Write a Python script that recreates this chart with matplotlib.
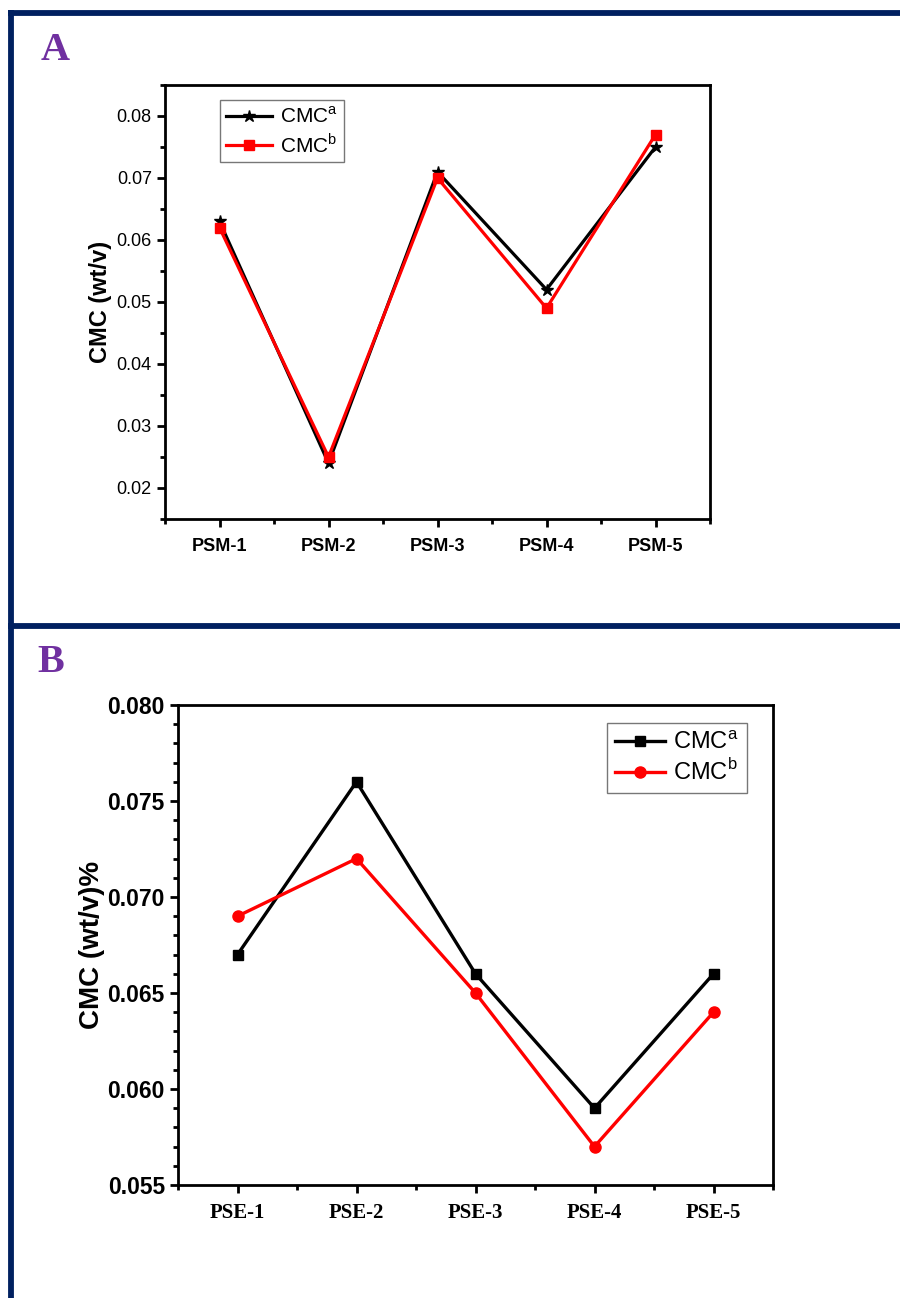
import matplotlib
matplotlib.use("Agg")
import matplotlib.pyplot as plt
from matplotlib.lines import Line2D
from matplotlib.ticker import MultipleLocator, FixedLocator

# ---------------- data ----------------
cats_a = ["PSM-1", "PSM-2", "PSM-3", "PSM-4", "PSM-5"]
cmc_a_a = [0.063, 0.024, 0.071, 0.052, 0.075]
cmc_b_a = [0.062, 0.025, 0.070, 0.049, 0.077]

cats_b = ["PSE-1", "PSE-2", "PSE-3", "PSE-4", "PSE-5"]
cmc_a_b = [0.067, 0.076, 0.066, 0.059, 0.066]
cmc_b_b = [0.069, 0.072, 0.065, 0.057, 0.064]

W, H = 900, 1298
fig = plt.figure(figsize=(W / 100, H / 100), dpi=100)

def fx(px):
    return px / W

def fy(py):
    return 1 - py / H

navy = "#002060"
purple = "#7030A0"

# border lines
for (x0, y0, x1, y1) in [(8, 12.5, 900, 12.5), (11, 10, 11, 1298), (8, 625.5, 900, 625.5)]:
    fig.add_artist(Line2D([fx(x0), fx(x1)], [fy(y0), fy(y1)], color=navy, lw=4.2,
                          transform=fig.transFigure, solid_capstyle="butt"))

fig.text(fx(55), fy(51), "A", color=purple, fontsize=29, fontweight="bold",
         family="Liberation Serif", ha="center", va="center")
fig.text(fx(51), fy(663), "B", color=purple, fontsize=29, fontweight="bold",
         family="Liberation Serif", ha="center", va="center")

def style_axes(ax):
    for s in ax.spines.values():
        s.set_linewidth(2.0)
    ax.tick_params(which="both", direction="out", top=False, right=False, width=2.0)
    ax.tick_params(which="major", length=6)
    ax.tick_params(which="minor", length=3.5)

# ---------------- panel A ----------------
axA = fig.add_axes([fx(165), fy(519), fx(710) - fx(165), fy(85) - fy(519)])
xa = list(range(1, len(cats_a) + 1))
axA.plot(xa, cmc_a_a, color="black", lw=2.3, marker="*", ms=9, label="CMC$^{\\mathregular{a}}$")
axA.plot(xa, cmc_b_a, color="red", lw=2.3, marker="s", ms=7, label="CMC$^{\\mathregular{b}}$")
axA.set_xlim(0.5, 5.5)
axA.set_ylim(0.015, 0.085)
axA.set_xticks(xa)
axA.set_xticklabels(cats_a, fontsize=13, fontweight="bold", family="Liberation Sans")
axA.xaxis.set_minor_locator(FixedLocator([0.5, 1.5, 2.5, 3.5, 4.5, 5.5]))
axA.yaxis.set_major_locator(FixedLocator([0.02, 0.03, 0.04, 0.05, 0.06, 0.07, 0.08]))
axA.yaxis.set_minor_locator(MultipleLocator(0.005))
axA.set_yticklabels(["0.02", "0.03", "0.04", "0.05", "0.06", "0.07", "0.08"],
                    fontsize=13, family="Liberation Sans")
axA.set_ylabel("CMC (wt/v)", fontsize=17, fontweight="bold", family="Liberation Sans", labelpad=3)
style_axes(axA)
axA.tick_params(axis="x", which="major", pad=8)
legA = axA.legend(loc="upper left", bbox_to_anchor=(0.1, 0.965),
                  prop={"family": "Liberation Sans", "size": 15}, frameon=True, fancybox=False,
                  edgecolor="#555555", handlelength=2.2, borderpad=0.3, labelspacing=0.25,
                  handletextpad=0.4, borderaxespad=0)
legA.get_frame().set_linewidth(1.0)

# ---------------- panel B ----------------
axB = fig.add_axes([fx(178), fy(1185), fx(773) - fx(178), fy(705) - fy(1185)])
xb = list(range(1, len(cats_b) + 1))
axB.plot(xb, cmc_a_b, color="black", lw=2.4, marker="s", ms=7, label="CMC$^{\\mathregular{a}}$")
axB.plot(xb, cmc_b_b, color="red", lw=2.4, marker="o", ms=8, label="CMC$^{\\mathregular{b}}$")
axB.set_xlim(0.5, 5.5)
axB.set_ylim(0.055, 0.080)
axB.set_xticks(xb)
axB.set_xticklabels(cats_b, fontsize=15, fontweight="bold", family="Liberation Serif")
axB.xaxis.set_minor_locator(FixedLocator([0.5, 1.5, 2.5, 3.5, 4.5, 5.5]))
axB.yaxis.set_major_locator(FixedLocator([0.055, 0.060, 0.065, 0.070, 0.075, 0.080]))
axB.yaxis.set_minor_locator(MultipleLocator(0.001))
axB.set_yticklabels(["0.055", "0.060", "0.065", "0.070", "0.075", "0.080"],
                    fontsize=16.5, fontweight="bold", family="Liberation Sans")
axB.set_ylabel("CMC (wt/v)%", fontsize=20, fontweight="bold", family="Liberation Sans", labelpad=2)
style_axes(axB)
axB.tick_params(axis="x", which="major", pad=7)
legB = axB.legend(loc="upper right", bbox_to_anchor=(0.956, 0.962),
                  prop={"family": "Liberation Sans", "size": 17}, frameon=True, fancybox=False,
                  edgecolor="#555555", handlelength=2.1, borderpad=0.35, labelspacing=0.2,
                  handletextpad=0.35, borderaxespad=0)
legB.get_frame().set_linewidth(1.0)

fig.savefig("out.png", dpi=100)
